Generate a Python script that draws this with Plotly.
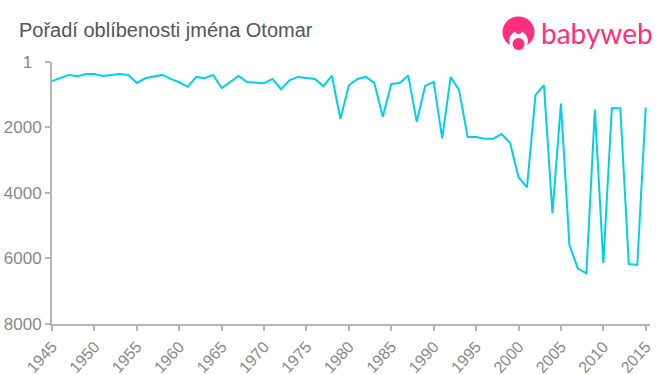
import plotly.graph_objects as go

years = list(range(1945, 2016))
ranks = [580, 490, 395, 435, 365, 365, 425, 395, 365, 395,
         640, 497, 457, 395, 518, 620, 760, 457, 497, 395,
         800, 610, 425, 610, 640, 650, 518, 830, 560, 457,
         487, 518, 740, 416, 1740, 710, 518, 457, 640, 1675,
         670, 640, 416, 1827, 730, 610, 2335, 457, 863, 2294,
         2294, 2345, 2345, 2200, 2466, 3520, 3830, 1015, 710, 4622,
         1269, 5588, 6310, 6452, 1450, 6147, 1410, 1410, 6168, 6198,
         1390]
x_ticks = list(range(1945, 2016, 5))
y_ticks = [1, 2000, 4000, 6000, 8000]
y_labels = ["1\u00a0\u00a0", "2000", "4000", "6000", "8000"]
title = "Pořadí oblíbenosti jména Otomar"
brand = "babyweb"

W, H = 660, 375
L, R, T, B = 52, 650, 62, 324
PINK = "#ff2f7e"


def px(x):  # page pixel to plot-area fraction
    return (x - L) / (R - L)


def py(y):
    return (B - y) / (B - T)


def circle(cx, cy, rx, ry, color):
    return dict(type="circle", xref="paper", yref="paper", layer="above",
                x0=px(cx - rx), x1=px(cx + rx), y0=py(cy + ry), y1=py(cy - ry),
                fillcolor=color, line=dict(width=0))


def rect(x0, y0, x1, y1, color):
    return dict(type="rect", xref="paper", yref="paper", layer="above",
                x0=px(x0), x1=px(x1), y0=py(y1), y1=py(y0),
                fillcolor=color, line=dict(width=0))


fig = go.Figure(go.Scatter(x=years, y=ranks, mode="lines",
                           line=dict(color="#00cfea", width=2), hoverinfo="skip"))
axis_style = dict(showgrid=False, zeroline=False, showline=True, linecolor="#b5b5b5", linewidth=2,
                  ticks="outside", ticklen=5, tickcolor="#b5b5b5", tickwidth=2,
                  automargin=False)
fig.update_layout(
    width=W, height=H, autosize=False,
    margin=dict(l=L, r=W - R, t=T, b=H - B, autoexpand=False),
    paper_bgcolor="white", plot_bgcolor="white", showlegend=False,
    font=dict(family="Liberation Sans, Arial, sans-serif"),
    title=dict(text=title, x=19 / W, xanchor="left", y=1 - 30 / H, yanchor="middle",
               font=dict(size=20, color="#555555")),
    xaxis=dict(range=[1945, 2015.5], tickmode="array", tickvals=x_ticks,
               ticktext=[str(v) for v in x_ticks], tickangle=-48,
               tickfont=dict(size=16, color="#888888"), **axis_style),
    yaxis=dict(range=[8000, 1], tickmode="array", tickvals=y_ticks,
               ticktext=y_labels,
               tickfont=dict(size=17, color="#888888"), **axis_style),
    shapes=[
        circle(518.5, 32, 16, 15.5, PINK),
        circle(518.5, 41, 9.5, 10, "white"),
        rect(500, 45, 538, 50, "white"),
        circle(518.5, 31.5, 3, 2.5, PINK),
        circle(518.5, 44, 6, 6, PINK),
    ],
    annotations=[dict(text=brand, xref="paper", yref="paper", x=px(539), y=py(33),
                      xanchor="left", yanchor="middle", showarrow=False,
                      font=dict(family="Lato, sans-serif", size=28, color=PINK))],
)
fig.write_html("out.html", config={"displayModeBar": False},
               post_script="document.body.style.margin='0';")
